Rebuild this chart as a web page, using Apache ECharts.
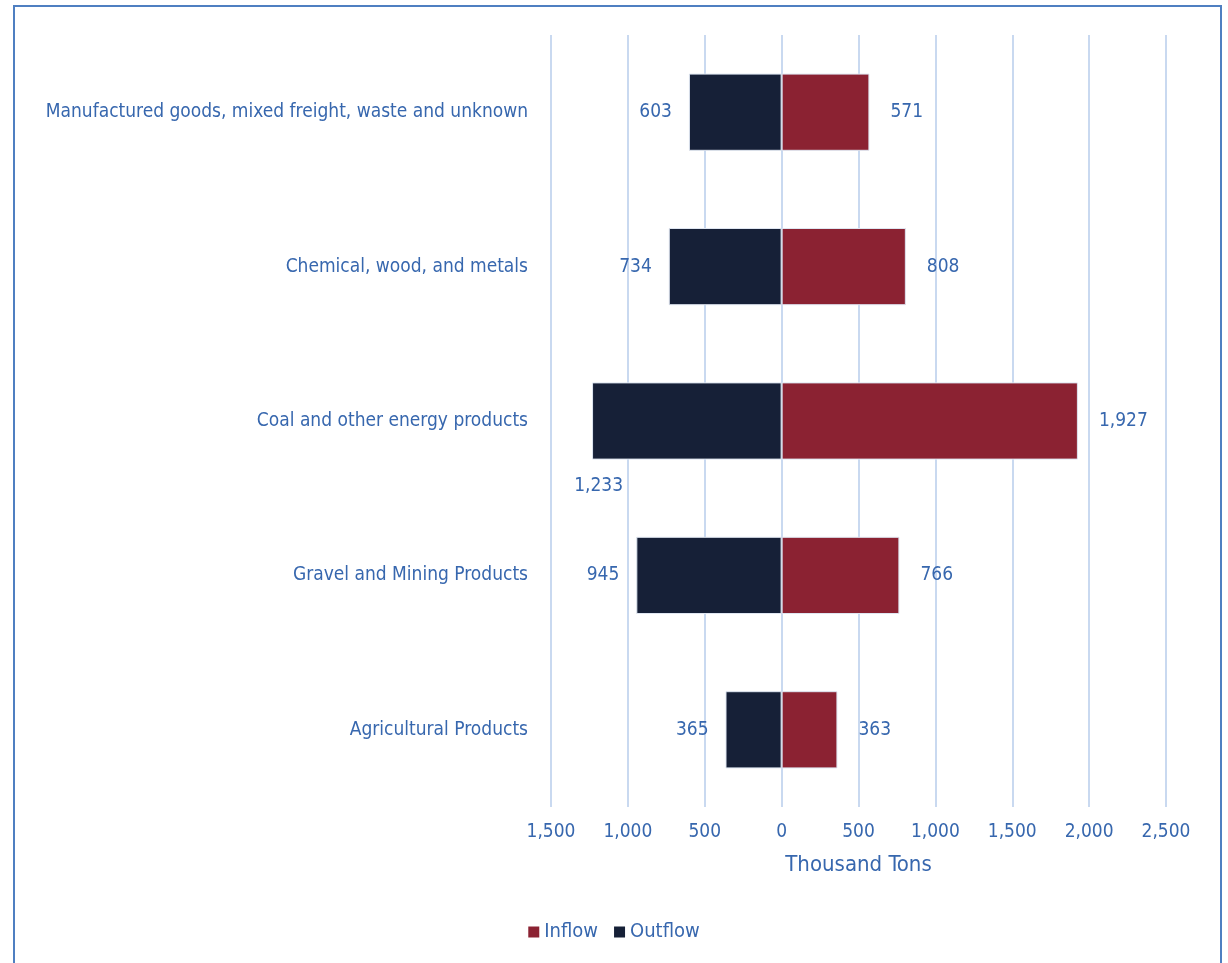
<!DOCTYPE html>
<html>
<head>
<meta charset="utf-8">
<script src="https://cdn.jsdelivr.net/npm/echarts@6/dist/echarts.min.js"></script>
<style>
  html, body { margin: 0; padding: 0; background: #fff; }
  #chart { width: 1228px; height: 963px; }
</style>
</head>
<body>
<div id="chart"></div>
<script>
// categories, top to bottom
var categories = [
  'Manufactured goods, mixed freight, waste and unknown',
  'Chemical, wood, and metals',
  'Coal and other energy products',
  'Gravel and Mining Products',
  'Agricultural Products'
];
var inflow = [571, 808, 1927, 766, 363];
var outflow = [603, 734, 1233, 945, 365];

var FONT = '"Liberation Sans Narrow", "DejaVu Sans Condensed", sans-serif';
var TEXT = '#3767ae';

function fmt(v) {
  return Math.abs(v).toLocaleString('en-US');
}

var outData = outflow.map(function (v) {
  var d = { value: -v };
  // Excel put the 1,233 label under the bar
  if (v === 1233) {
    d.label = { position: 'left', offset: [48, 65] };
  }
  return d;
});

var myChart = echarts.init(document.getElementById('chart'));
myChart.setOption({
  animation: false,
  textStyle: { fontFamily: FONT },
  graphic: [{
    type: 'rect',
    shape: { x: 14, y: 6, width: 1207, height: 1000 },
    style: { fill: 'none', stroke: '#4f7fc1', lineWidth: 2 },
    z: -1
  }],
  legend: {
    bottom: 16,
    left: 'center',
    itemWidth: 11,
    itemHeight: 11,
    itemGap: 16,
    icon: 'rect',
    itemStyle: { borderWidth: 0 },
    textStyle: { color: TEXT, fontSize: 20, fontFamily: FONT },
    data: ['Inflow', 'Outflow']
  },
  grid: { left: 551, right: 62, top: 35, bottom: 156 },
  xAxis: {
    type: 'value',
    min: -1500,
    max: 2500,
    interval: 500,
    name: 'Thousand Tons',
    nameLocation: 'middle',
    nameGap: 47,
    nameTextStyle: { color: TEXT, fontSize: 22, fontFamily: FONT },
    axisLine: { show: false },
    axisTick: { show: false },
    axisLabel: {
      color: TEXT, fontSize: 19, fontFamily: FONT, margin: 16,
      formatter: function (v) { return fmt(v); }
    },
    splitLine: { show: true, lineStyle: { color: '#c9d9f0', width: 2 } }
  },
  yAxis: {
    type: 'category',
    inverse: true,
    data: categories,
    axisLine: { show: false },
    axisTick: { show: false },
    axisLabel: { color: TEXT, fontSize: 19, fontFamily: FONT, margin: 23 }
  },
  series: [
    {
      name: 'Inflow',
      type: 'bar',
      stack: 'flow',
      barCategoryGap: '50%',
      itemStyle: { color: '#8b2232', borderColor: '#dfe6f1', borderWidth: 1 },
      label: {
        show: true,
        position: 'right',
        distance: 21,
        color: TEXT,
        fontSize: 19,
        fontFamily: FONT,
        formatter: function (p) { return fmt(p.value); }
      },
      data: inflow
    },
    {
      name: 'Outflow',
      type: 'bar',
      stack: 'flow',
      barCategoryGap: '50%',
      itemStyle: { color: '#162037', borderColor: '#dfe6f1', borderWidth: 1 },
      label: {
        show: true,
        position: 'left',
        distance: 17,
        color: TEXT,
        fontSize: 19,
        fontFamily: FONT,
        formatter: function (p) { return fmt(p.value); }
      },
      data: outData
    }
  ]
});
</script>
</body>
</html>
